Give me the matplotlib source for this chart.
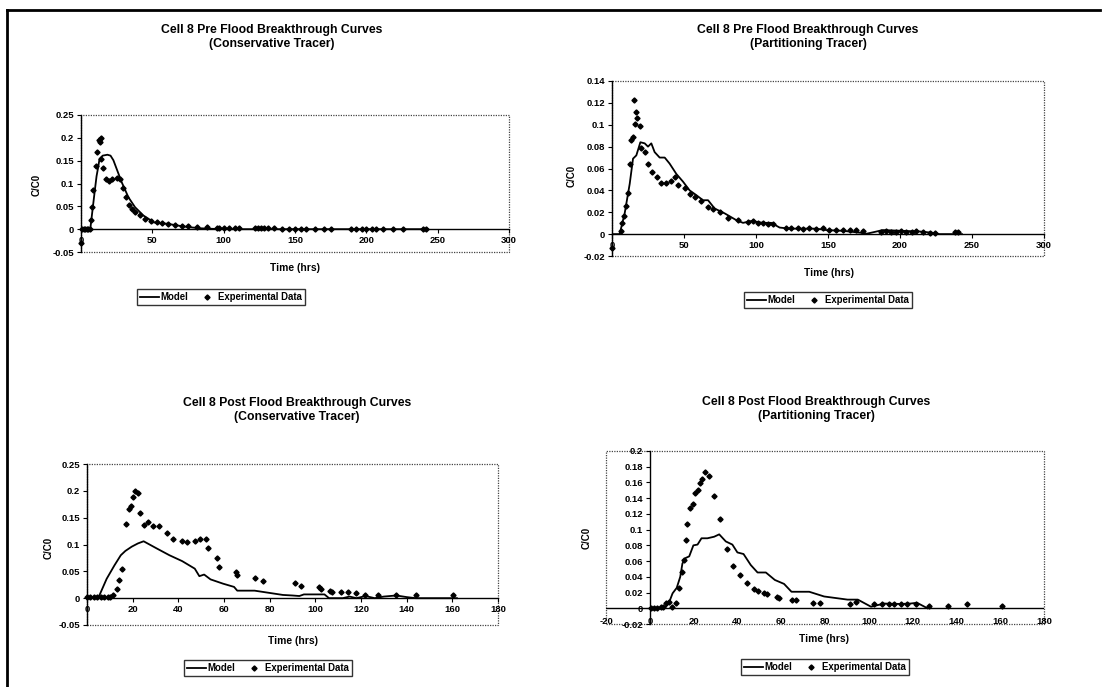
import matplotlib
matplotlib.use('Agg')
import matplotlib.pyplot as plt
from matplotlib.patches import Rectangle
from matplotlib.lines import Line2D
from matplotlib.ticker import MultipleLocator, FuncFormatter

plt.rcParams['font.family'] = ['Liberation Sans', 'DejaVu Sans']
plt.rcParams['font.weight'] = 'bold'

# ---- Cell 8 pre flood, conservative tracer
pre_cons_model_t = [0, 3, 6.5, 8, 9.5, 10.9, 12, 13, 15.2, 18.5, 20.7, 22.7, 26.2, 28.5, 33.2, 37.9,
                    40.5, 43.7, 47.2, 50.7, 55, 60, 66, 71.7, 77, 83.4, 90, 100, 120, 243]
pre_cons_model_c = [0, 0, 0, 0.04, 0.08, 0.116, 0.135, 0.154, 0.161, 0.163, 0.161, 0.151, 0.122, 0.103,
                    0.07, 0.048, 0.04, 0.03, 0.023, 0.015, 0.013, 0.012, 0.009, 0.006, 0.004, 0.002,
                    0.001, 0.0, 0.0, 0.0]
pre_cons_exp_t = [0, 1, 2, 3, 4, 5, 6, 7, 8, 8.7, 10.2, 10.9, 12.4, 13, 13.7, 14.1, 15.2, 17.4, 19.6,
                  21.7, 25, 27.2, 29.3, 31.5, 33.7, 35.9, 38, 41.3, 44.6, 48.9, 53, 57, 61, 66, 71, 75,
                  81, 88, 95, 97, 100, 104, 108, 111, 122, 124, 126, 128, 131, 135, 141, 146, 150, 154,
                  158, 164, 170, 175, 189, 193, 197, 200, 204, 207, 212, 219, 226, 239.5, 242]
pre_cons_exp_c = [-0.03, 0.001, 0.001, 0.001, 0.001, 0.001, 0.001, 0.02, 0.049, 0.086, 0.139, 0.169,
                  0.195, 0.191, 0.2, 0.154, 0.135, 0.109, 0.105, 0.109, 0.112, 0.109, 0.09, 0.071,
                  0.052, 0.045, 0.037, 0.03, 0.022, 0.017, 0.015, 0.013, 0.012, 0.01, 0.008, 0.006,
                  0.005, 0.004, 0.003, 0.003, 0.003, 0.003, 0.002, 0.002, 0.002, 0.002, 0.002, 0.002,
                  0.002, 0.002, 0.001, 0.001, 0.001, 0.001, 0.001, 0.001, 0.001, 0.001, 0.001, 0.001,
                  0.001, 0.001, 0.001, 0.001, 0.001, 0.001, 0.001, 0.001, 0.001]

# ---- Cell 8 pre flood, partitioning tracer
pre_part_model_t = [0, 5.3, 8.8, 12.3, 14.6, 16.9, 19.7, 22.7, 25, 27.3, 29.6, 33.1, 36.6, 40, 44.7,
                    49.3, 53.9, 58.6, 63.2, 66.7, 71.3, 78.2, 86.3, 91, 96.8, 104.9, 110.6, 116.4,
                    123.4, 141.9, 148.8, 160.4, 173, 175.5, 182.4, 188, 202, 213.7, 223, 227.5, 243]
pre_part_model_c = [0, 0, 0.019, 0.046, 0.069, 0.072, 0.084, 0.083, 0.080, 0.083, 0.075, 0.070, 0.070,
                    0.0645, 0.055, 0.048, 0.040, 0.0356, 0.031, 0.031, 0.0234, 0.019, 0.0128, 0.0103,
                    0.012, 0.0103, 0.0103, 0.006, 0.005, 0.005, 0.0037, 0.003, 0.0012, 0, 0.002,
                    0.0037, 0.003, 0.0024, 0.0012, 0, 0]
pre_part_exp_t = [0, 6, 7.2, 8.1, 10, 11.1, 12.3, 13.4, 14.6, 15.3, 15.7, 16.4, 17.4, 19.2, 20.4, 22.7,
                  25, 28, 31.2, 34.3, 37.7, 41.2, 43.5, 45.8, 50.5, 53.9, 57.4, 62, 66.7, 70, 74.8,
                  80.6, 87.5, 94.4, 97.9, 101.4, 104.9, 108.3, 111.8, 121, 124.5, 129, 132.6, 137,
                  141.9, 146.5, 151, 155.8, 160.4, 165, 169.7, 174.3, 187, 190.5, 194, 197.5, 201,
                  204.4, 208, 211, 216, 220.6, 224, 238, 240.3]
pre_part_exp_c = [-0.013, 0.003, 0.01, 0.017, 0.026, 0.038, 0.064, 0.086, 0.089, 0.123, 0.101, 0.112,
                  0.106, 0.099, 0.079, 0.075, 0.064, 0.057, 0.052, 0.047, 0.047, 0.049, 0.052, 0.045,
                  0.042, 0.037, 0.034, 0.030, 0.025, 0.023, 0.020, 0.015, 0.013, 0.011, 0.012, 0.010,
                  0.010, 0.009, 0.009, 0.006, 0.006, 0.006, 0.005, 0.006, 0.005, 0.006, 0.004, 0.004,
                  0.004, 0.004, 0.004, 0.003, 0.002, 0.003, 0.002, 0.002, 0.003, 0.002, 0.002, 0.003,
                  0.002, 0.001, 0.001, 0.002, 0.002]

# ---- Cell 8 post flood, conservative tracer
post_cons_model_t = [0, 5.1, 8.6, 12, 14.8, 16.8, 19.6, 22.3, 24.8, 30.6, 36.1, 41.7, 47.2, 49.2, 51.3,
                     54.1, 59.6, 64.4, 65.8, 73.4, 85.8, 90, 93, 95, 104, 106, 112, 115, 118, 122, 126,
                     130, 135.5, 140, 144, 162]
post_cons_model_c = [0.002, 0.002, 0.036, 0.061, 0.080, 0.088, 0.096, 0.102, 0.106, 0.0925, 0.080,
                     0.069, 0.055, 0.041, 0.044, 0.035, 0.027, 0.021, 0.014, 0.014, 0.006, 0.005,
                     0.004, 0.007, 0.007, 0.0, 0.0, 0.003, 0.0, 0.004, 0.0, 0.003, 0.005, 0.002, 0.0,
                     0.0]
post_cons_exp_t = [0, 1.5, 3, 4.5, 6, 7.5, 9, 10, 11.3, 13, 14.1, 15.2, 17.1, 18.5, 19.3, 20, 21, 22.3,
                   23.3, 24.8, 26.9, 29, 31.7, 35, 37.8, 41.4, 43.7, 47.2, 49.7, 52.1, 53, 57.1, 57.9,
                   65.1, 65.9, 73.7, 77.2, 91, 93.9, 101.6, 102.6, 106.3, 107.4, 111.4, 114.3, 117.7,
                   121.6, 127.4, 135.5, 144.2, 160.3]
post_cons_exp_c = [0.002, 0.002, 0.002, 0.002, 0.002, 0.002, 0.002, 0.003, 0.005, 0.018, 0.033, 0.055,
                   0.138, 0.166, 0.171, 0.189, 0.199, 0.196, 0.159, 0.136, 0.141, 0.134, 0.134, 0.122,
                   0.111, 0.107, 0.105, 0.107, 0.110, 0.110, 0.094, 0.074, 0.058, 0.048, 0.044, 0.038,
                   0.032, 0.028, 0.023, 0.020, 0.017, 0.014, 0.012, 0.011, 0.011, 0.009, 0.006, 0.006,
                   0.006, 0.005, 0.005]

# ---- Cell 8 post flood, partitioning tracer
post_part_model_t = [0, 6.5, 8, 9.3, 10.4, 12.3, 13.9, 14.9, 16.4, 18, 19.9, 21.8, 23.6, 26.3, 29.4,
                     31.7, 34.7, 37.7, 40, 42.8, 46.1, 49.2, 53, 57.1, 61.3, 64.7, 72.8, 79.6, 90.3,
                     95, 101, 107, 114.6, 119, 122, 126.8]
post_part_model_c = [0, 0, 0.004, 0.011, 0.019, 0.026, 0.040, 0.057, 0.064, 0.066, 0.080, 0.081, 0.089,
                     0.089, 0.091, 0.094, 0.085, 0.081, 0.071, 0.069, 0.055, 0.0455, 0.0455, 0.036,
                     0.031, 0.021, 0.021, 0.015, 0.011, 0.011, 0.002, 0.006, 0.0055, 0.006, 0.007, 0.0]
post_part_exp_t = [0.5, 2, 3.5, 5, 6, 7.3, 8.8, 10.3, 11.9, 13.4, 14.5, 15.4, 16.4, 17.2, 18.4, 19.9,
                   20.7, 21.8, 23, 24, 25.1, 27.1, 29.1, 32, 35.2, 38.2, 41.2, 44.3, 47.6, 49.5, 52.2,
                   53.4, 58, 59, 65.1, 66.7, 74.3, 77.8, 91.5, 94, 102.4, 106, 109.3, 111.6, 114.6,
                   117.4, 121.5, 127.5, 136, 144.7, 160.6]
post_part_exp_c = [0, 0, 0, 0.001, 0.002, 0.007, 0.0085, 0.002, 0.007, 0.0255, 0.0455, 0.062, 0.087,
                   0.107, 0.127, 0.132, 0.146, 0.150, 0.159, 0.164, 0.173, 0.168, 0.143, 0.114, 0.076,
                   0.054, 0.042, 0.032, 0.025, 0.0225, 0.019, 0.018, 0.014, 0.013, 0.010, 0.010,
                   0.007, 0.007, 0.006, 0.0077, 0.0055, 0.005, 0.0055, 0.0055, 0.005, 0.0055, 0.0055,
                   0.0034, 0.0034, 0.005, 0.0034]

W, H = 1102, 687
fig = plt.figure(figsize=(W / 100, H / 100), dpi=100)
fig.patch.set_facecolor('white')

# outer frame (left + top)
fig.add_artist(Line2D([7 / W, 7 / W], [0, 1 - 10 / H], color='black', lw=2, transform=fig.transFigure))
fig.add_artist(Line2D([7 / W, 1100 / W], [1 - 10 / H, 1 - 10 / H], color='black', lw=2,
                      transform=fig.transFigure))

fmt = FuncFormatter(lambda v, p: f'{round(v, 4):g}' if abs(v) > 1e-9 else '0')


def fx(x):
    return x / W


def fy(y):
    return 1 - y / H


def panel(box, xlim, xstep, ylim, ystep, tm, cm, te, ce, title, title_xy, xlab_xy, ylab_xy,
          leg_xy, labels_at_zero=True):
    l, t, r, b = box
    ax = fig.add_axes([l / W, 1 - b / H, (r - l) / W, (b - t) / H])
    ax.plot(tm, cm, color='black', lw=1.3, zorder=3)
    ax.plot(te, ce, ls='none', marker='D', ms=2.6, color='black', zorder=4, clip_on=False)
    ax.set_xlim(*xlim)
    ax.set_ylim(*ylim)
    ax.xaxis.set_major_locator(MultipleLocator(xstep))
    ax.yaxis.set_major_locator(MultipleLocator(ystep))
    ax.xaxis.set_major_formatter(fmt)
    ax.yaxis.set_major_formatter(fmt)
    for s in ['top', 'right']:
        ax.spines[s].set_visible(False)
    ax.add_patch(Rectangle((0, 0), 1, 1, transform=ax.transAxes, fill=False, ls=(0, (1, 1)),
                           lw=0.9, edgecolor='#444444', clip_on=False, zorder=1))
    ax.spines['left'].set_position(('data', 0))
    ax.spines['left'].set_linewidth(1.0)
    if labels_at_zero:
        ax.spines['bottom'].set_position(('data', 0))
        ax.spines['bottom'].set_linewidth(1.0)
    else:
        ax.spines['bottom'].set_visible(False)
        ax.axhline(0, color='black', lw=1.0, zorder=2)
    ax.tick_params(labelsize=6.8, length=3, width=0.8, pad=2)
    if not labels_at_zero:
        ax.tick_params(axis='x', length=0, pad=-5)
    fig.text(fx(title_xy[0]), fy(title_xy[1]), title, ha='center', va='center', fontsize=8.8,
             fontweight='bold', linespacing=1.3)
    fig.text(fx(xlab_xy[0]), fy(xlab_xy[1]), 'Time (hrs)', ha='center', va='center', fontsize=7.4,
             fontweight='bold')
    fig.text(fx(ylab_xy[0]), fy(ylab_xy[1]), 'C/C0', ha='center', va='center', fontsize=7,
             fontweight='bold', rotation=90)
    handles = [Line2D([], [], color='black', lw=1.3),
               Line2D([], [], ls='none', marker='D', ms=2.6, color='black')]
    leg = ax.legend(handles, ['Model', 'Experimental Data'], loc='center',
                    bbox_to_anchor=(fx(leg_xy[0]), fy(leg_xy[1])), bbox_transform=fig.transFigure,
                    ncol=2, fontsize=6.9, frameon=True, fancybox=False, handlelength=2.0,
                    handletextpad=0.2, columnspacing=0.9, borderpad=0.3, borderaxespad=0)
    leg.get_frame().set_edgecolor('black')
    leg.get_frame().set_linewidth(1.0)
    return ax


panel((81, 115, 509, 252), (0, 300), 50, (-0.05, 0.25), 0.05, pre_cons_model_t, pre_cons_model_c,
      pre_cons_exp_t, pre_cons_exp_c,
      'Cell 8 Pre Flood Breakthrough Curves\n(Conservative Tracer)', (272, 37), (295, 268),
      (37, 185), (221, 297))
panel((612, 81, 1044, 256), (0, 300), 50, (-0.02, 0.14), 0.02, pre_part_model_t, pre_part_model_c,
      pre_part_exp_t, pre_part_exp_c,
      'Cell 8 Pre Flood Breakthrough Curves\n(Partitioning Tracer)', (808, 37), (829, 273),
      (572, 176), (828, 300))
panel((87, 464, 498, 625), (0, 180), 20, (-0.05, 0.25), 0.05, post_cons_model_t, post_cons_model_c,
      post_cons_exp_t, post_cons_exp_c,
      'Cell 8 Post Flood Breakthrough Curves\n(Conservative Tracer)', (297, 410), (293, 641),
      (49, 548), (268, 668))
panel((606, 451, 1044, 624), (-20, 180), 20, (-0.02, 0.2), 0.02, post_part_model_t, post_part_model_c,
      post_part_exp_t, post_part_exp_c,
      'Cell 8 Post Flood Breakthrough Curves\n(Partitioning Tracer)', (816, 409), (824, 639),
      (587, 538), (825, 667), labels_at_zero=False)

fig.savefig('out.png', dpi=100)
